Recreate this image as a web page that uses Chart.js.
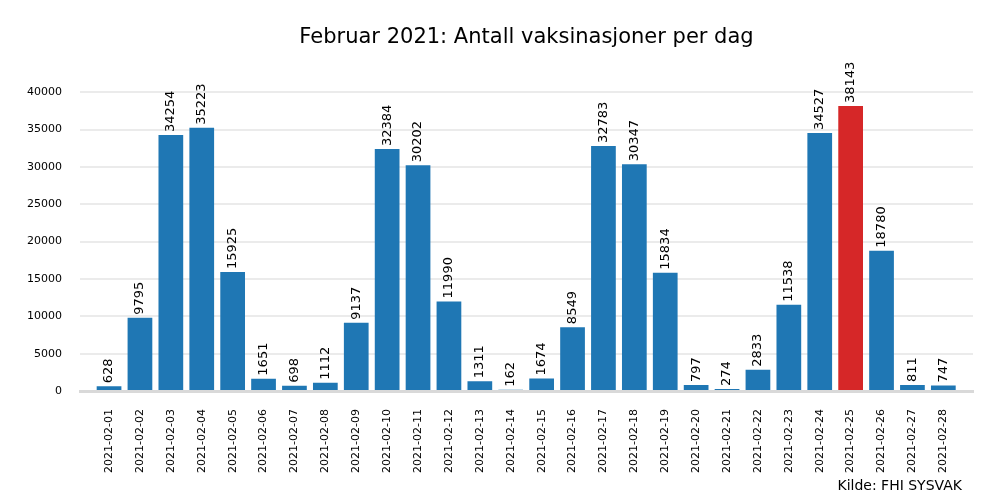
<!DOCTYPE html>
<html>
<head>
<meta charset="utf-8">
<title>Februar 2021: Antall vaksinasjoner per dag</title>
<script src="https://cdn.jsdelivr.net/npm/chart.js@4.4.1/dist/chart.umd.min.js"></script>
<style>
    html, body { margin: 0; padding: 0; background: #ffffff; }
    #wrap { width: 1000px; height: 500px; }
</style>
</head>
<body>
<div id="wrap"><canvas id="vaccChart" width="1000" height="500"></canvas></div>
<script>
// Data
const dates = [
    '2021-02-01', '2021-02-02', '2021-02-03', '2021-02-04', '2021-02-05', '2021-02-06', '2021-02-07',
    '2021-02-08', '2021-02-09', '2021-02-10', '2021-02-11', '2021-02-12', '2021-02-13', '2021-02-14',
    '2021-02-15', '2021-02-16', '2021-02-17', '2021-02-18', '2021-02-19', '2021-02-20', '2021-02-21',
    '2021-02-22', '2021-02-23', '2021-02-24', '2021-02-25', '2021-02-26', '2021-02-27', '2021-02-28'
];
const doses = [
    628, 9795, 34254, 35223, 15925, 1651, 698,
    1112, 9137, 32384, 30202, 11990, 1311, 162,
    1674, 8549, 32783, 30347, 15834, 797, 274,
    2833, 11538, 34527, 38143, 18780, 811, 747
];
const highlightDate = '2021-02-25';
const yTicks = [0, 5000, 10000, 15000, 20000, 25000, 30000, 35000, 40000];

const FONT = "'DejaVu Sans', 'Liberation Sans', sans-serif";
const BLUE = '#1f77b4';
const RED = '#d62728';

// Value labels above each bar, rotated 90 degrees
const barLabels = {
    id: 'barLabels',
    afterDatasetsDraw(chart) {
        const ctx = chart.ctx;
        const meta = chart.getDatasetMeta(0);
        ctx.save();
        ctx.font = '13px ' + FONT;
        ctx.fillStyle = '#000000';
        ctx.textAlign = 'left';
        ctx.textBaseline = 'middle';
        meta.data.forEach((bar, i) => {
            ctx.save();
            ctx.translate(bar.x, bar.y - 3);
            ctx.rotate(-Math.PI / 2);
            ctx.fillText(String(doses[i]), 0, 0);
            ctx.restore();
        });
        ctx.restore();
    },
    afterDraw(chart) {
        // source note, bottom right
        const ctx = chart.ctx;
        ctx.save();
        ctx.font = '14px ' + FONT;
        ctx.fillStyle = '#000000';
        ctx.textAlign = 'right';
        ctx.textBaseline = 'middle';
        ctx.fillText('Kilde: FHI SYSVAK', 962, 486);
        ctx.restore();
    }
};

new Chart(document.getElementById('vaccChart'), {
    type: 'bar',
    data: {
        datasets: [{
            label: 'Antall vaksinasjoner',
            data: dates.map((d, i) => ({ x: i, y: doses[i] })),
            backgroundColor: dates.map(d => d === highlightDate ? RED : BLUE),
            barPercentage: 0.8,
            categoryPercentage: 1.0,
            borderWidth: 0,
            borderRadius: 0
        }]
    },
    options: {
        responsive: false,
        animation: false,
        layout: { padding: { left: 0, right: 27, top: 0, bottom: 0 } },
        plugins: {
            legend: { display: false },
            tooltip: { enabled: false },
            title: {
                display: true,
                text: 'Februar 2021: Antall vaksinasjoner per dag',
                fullSize: false,
                color: '#000000',
                font: { family: FONT, size: 21, weight: 'normal' },
                padding: { top: 25, bottom: 27 }
            }
        },
        scales: {
            x: {
                type: 'linear',
                offset: false,
                min: -0.94,
                max: 27.96,
                afterBuildTicks: (scale) => {
                    scale.ticks = dates.map((d, i) => ({ value: i }));
                },
                afterFit: (scale) => { scale.height = 109; },
                grid: { display: false, drawTicks: false },
                border: { display: true, color: '#d9d9d9', width: 3 },
                ticks: {
                    autoSkip: false,
                    maxRotation: 90,
                    minRotation: 90,
                    padding: 18,
                    color: '#000000',
                    font: { family: FONT, size: 11 },
                    callback: (v) => dates[v]
                }
            },
            y: {
                min: 0,
                max: 42000,
                afterBuildTicks: (scale) => {
                    scale.ticks = yTicks.map(v => ({ value: v }));
                },
                afterFit: (scale) => { scale.width = 80; },
                grid: { color: '#ebebeb', lineWidth: 2, drawTicks: false },
                border: { display: false },
                ticks: {
                    padding: 18,
                    color: '#000000',
                    font: { family: FONT, size: 11 },
                    callback: (v) => String(v)
                }
            }
        }
    },
    plugins: [barLabels]
});
</script>
</body>
</html>
